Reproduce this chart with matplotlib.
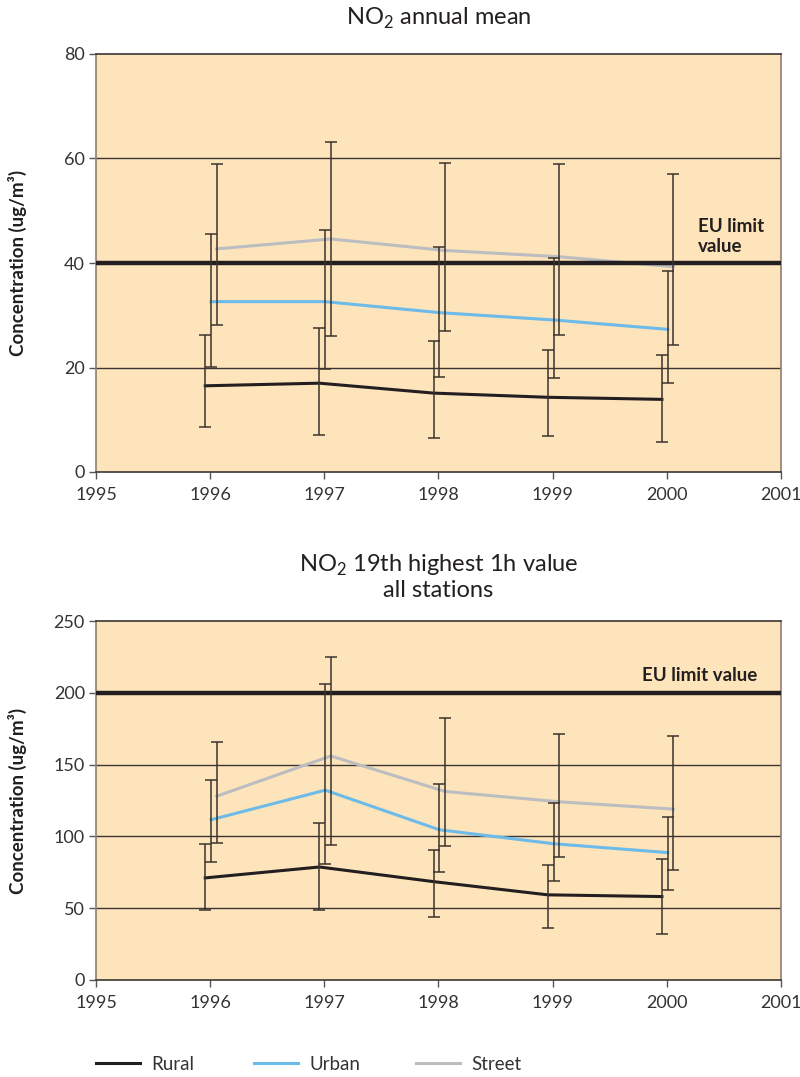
import matplotlib
matplotlib.use("Agg")
import matplotlib.pyplot as plt

plt.rcParams['font.family'] = ['Lato', 'DejaVu Sans']
plt.rcParams['mathtext.fontset'] = 'custom'
plt.rcParams['mathtext.rm'] = 'Lato'

# ---- data -------------------------------------------------------------
years = [1996, 1997, 1998, 1999, 2000]
series = ['Rural', 'Urban', 'Street']

# NO2 annual mean (ug/m3): mean, upper and lower bound of station spread
annual_mean = {
    'Rural':  [16.5, 17.0, 15.1, 14.3, 13.9],
    'Urban':  [32.6, 32.6, 30.5, 29.1, 27.3],
    'Street': [42.7, 44.6, 42.4, 41.2, 39.3],
}
annual_high = {
    'Rural':  [26.2, 27.6, 25.1, 23.3, 22.3],
    'Urban':  [45.5, 46.4, 43.1, 40.9, 38.4],
    'Street': [58.9, 63.1, 59.1, 58.9, 57.0],
}
annual_low = {
    'Rural':  [8.7, 7.1, 6.6, 6.9, 5.8],
    'Urban':  [20.1, 19.7, 18.2, 18.0, 17.0],
    'Street': [28.1, 26.0, 27.0, 26.2, 24.4],
}
annual_limit = 40

# NO2 19th highest 1h value, all stations (ug/m3)
hourly_mean = {
    'Rural':  [71.1, 78.7, 68.5, 59.3, 58.1],
    'Urban':  [111.6, 132.2, 104.6, 94.9, 88.7],
    'Street': [128.0, 156.0, 131.3, 124.1, 119.0],
}
hourly_high = {
    'Rural':  [94.9, 109.3, 90.5, 79.9, 84.0],
    'Urban':  [139.6, 206.3, 136.3, 123.4, 113.4],
    'Street': [165.7, 224.8, 182.2, 171.1, 170.1],
}
hourly_low = {
    'Rural':  [48.4, 48.4, 44.0, 36.3, 31.9],
    'Urban':  [81.9, 81.0, 75.5, 69.0, 62.5],
    'Street': [95.4, 94.2, 93.1, 85.4, 76.9],
}
hourly_limit = 200

# ---- styling ------------------------------------------------------------
colors = {'Rural': '#231f20', 'Urban': '#6cbbe9', 'Street': '#bcbdc1'}
shift = {'Rural': -0.043, 'Urban': 0.008, 'Street': 0.057}   # side-by-side error bars
legend_x = {'Rural': 0.12, 'Urban': 0.3175, 'Street': 0.52}  # figure fraction
bg = '#fee4bb'
ink = '#231f20'
tick_col = '#333333'

fig = plt.figure(figsize=(8.0, 10.77), dpi=100)
ax1 = fig.add_axes([0.12, 1 - 472 / 1077, 0.85625, 418 / 1077])
ax2 = fig.add_axes([0.12, 1 - 980 / 1077, 0.85625, 359 / 1077])


def draw(ax, mean, high, low, limit, ymax, ystep):
    ax.set_facecolor(bg)
    ax.set_xlim(1995, 2001)
    ax.set_ylim(0, ymax)
    ax.set_xticks(range(1995, 2002))
    ax.set_yticks(range(0, ymax + 1, ystep))
    for yv in range(ystep, ymax, ystep):
        ax.axhline(yv, color='#3b3632', lw=1.0, zorder=1)
    ax.axhline(limit, color=ink, lw=3.2, zorder=4)
    handles = []
    for s in series:
        xs = [y + shift[s] for y in years]
        m = mean[s]
        lower = [mi - lo for mi, lo in zip(m, low[s])]
        upper = [hi - mi for mi, hi in zip(m, high[s])]
        ln, = ax.plot(xs, m, color=colors[s], lw=2.2, zorder=3,
                      solid_joinstyle='round')
        ax.errorbar(xs, m, yerr=[lower, upper], fmt='none', ecolor='#3a332d',
                    elinewidth=1.1, capsize=4.5, capthick=1.1, zorder=5)
        handles.append(ln)
    for side in ('left', 'right'):
        ax.spines[side].set_color('#8b8071')
        ax.spines[side].set_linewidth(1.2)
    for side in ('top', 'bottom'):
        ax.spines[side].set_color('#3b3632')
        ax.spines[side].set_linewidth(1.2)
    ax.tick_params(axis='both', direction='out', length=5, width=1.0,
                   color='#555555', labelcolor=tick_col, labelsize=13, pad=3)
    ax.tick_params(axis='x', pad=6)
    ax.set_ylabel('Concentration (ug/m³)', fontsize=13.5, fontweight='bold',
                  color=ink)
    ax.yaxis.set_label_coords(-0.101, 0.5)
    return handles


handles = draw(ax1, annual_mean, annual_high, annual_low, annual_limit, 80, 20)
draw(ax2, hourly_mean, hourly_high, hourly_low, hourly_limit, 250, 50)

ax1.text(2000.27, 45, 'EU limit\nvalue', ha='left', va='center', fontsize=13.5,
         fontweight='bold', color=ink, linespacing=1.2, zorder=6)
ax2.text(2000.79, 212, 'EU limit value', ha='right', va='center', fontsize=13.5,
         fontweight='bold', color=ink, zorder=6)

fig.text(0.548, 1 - 18 / 1077, r'NO$_\mathregular{2}$ annual mean', ha='center',
         va='center', fontsize=17, color='#231f20')
fig.text(0.548, 1 - 577 / 1077, 'NO$_\\mathregular{2}$ 19th highest 1h value\nall stations',
         ha='center', va='center', fontsize=17, color='#231f20', linespacing=1.15)

# one legend entry per series, evenly spaced along the bottom
for h, s in zip(handles, series):
    fig.legend([h], [s], loc='center left',
               bbox_to_anchor=(legend_x[s], 1 - 1064 / 1077), frameon=False,
               fontsize=13.5, handlelength=2.35, handletextpad=0.6,
               labelcolor='#333333', borderaxespad=0, borderpad=0)

fig.savefig('out.png', dpi=100, facecolor='white')
